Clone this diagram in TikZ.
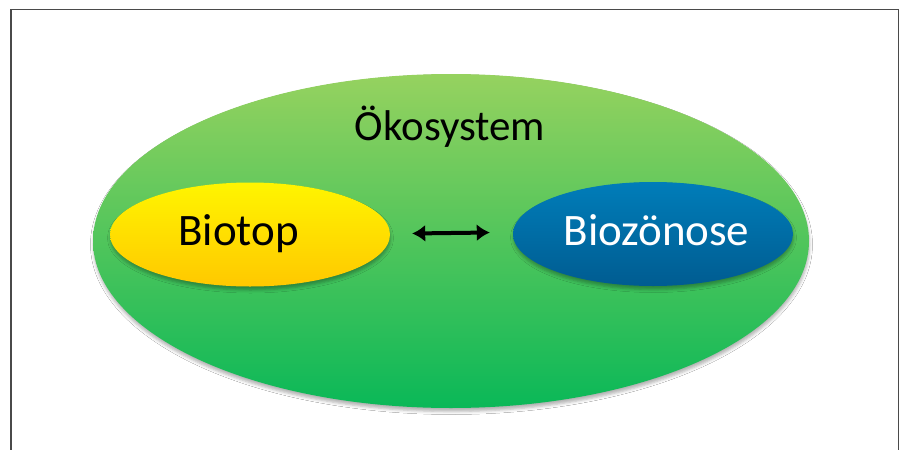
\documentclass[tikz,border=0pt]{standalone}
\usepackage{fontspec}
\setmainfont{Carlito}
\usetikzlibrary{shapes.geometric,arrows.meta,shadows.blur}
\definecolor{frameg}{HTML}{4A4A4A}
\definecolor{gtop}{RGB}{150,210,95}
\definecolor{gbot}{RGB}{10,184,88}
\definecolor{ytop}{RGB}{255,245,0}
\definecolor{ybot}{RGB}{255,200,0}
\definecolor{btop}{RGB}{0,125,185}
\definecolor{bbot}{RGB}{0,92,145}
\tikzset{
  oval/.style={ellipse, inner sep=0pt, blur shadow={shadow xshift=0.5pt, shadow yshift=-3.5pt, shadow blur radius=3pt, shadow opacity=30}},
  big/.style={oval, minimum width=716pt, minimum height=334pt, top color=gtop, bottom color=gbot},
  yel/.style={oval, minimum width=280pt, minimum height=104pt, top color=ytop, bottom color=ybot},
  blu/.style={oval, minimum width=280pt, minimum height=104pt, top color=btop, bottom color=bbot},
  lbl/.style={inner sep=0pt, anchor=base, font=\fontsize{45}{50}\selectfont},
  arr/.style={{Latex[length=13pt,width=17pt]}-{Latex[length=13pt,width=17pt]}, line width=4pt, black}
}
\begin{document}
\begin{tikzpicture}[x=1pt,y=-1pt]
\useasboundingbox (0,0) rectangle (903,450);
\fill[white] (0,0) rectangle (903,450);
\draw[frameg, line width=1.5pt] (11,451) -- (11,9.5) -- (898.5,9.5) -- (898.5,451);
\node[big] (eco) at (451,241) {};
\node[yel] (bt) at (250,234.5) {};
\node[blu] (bz) at (653,234) {};
\node[lbl, font=\fontsize{43}{50}\selectfont] (ecot) at (450,140) {Ökosystem};
\node[lbl] (btt) at (238.5,245) {Biotop};
\node[lbl, text=white] (bzt) at (656.5,245) {Biozönose};
\draw[arr] ([xshift=22pt,yshift=1pt]bt.east) -- ([xshift=-23pt,yshift=1.5pt]bz.west);
\end{tikzpicture}
\end{document}
